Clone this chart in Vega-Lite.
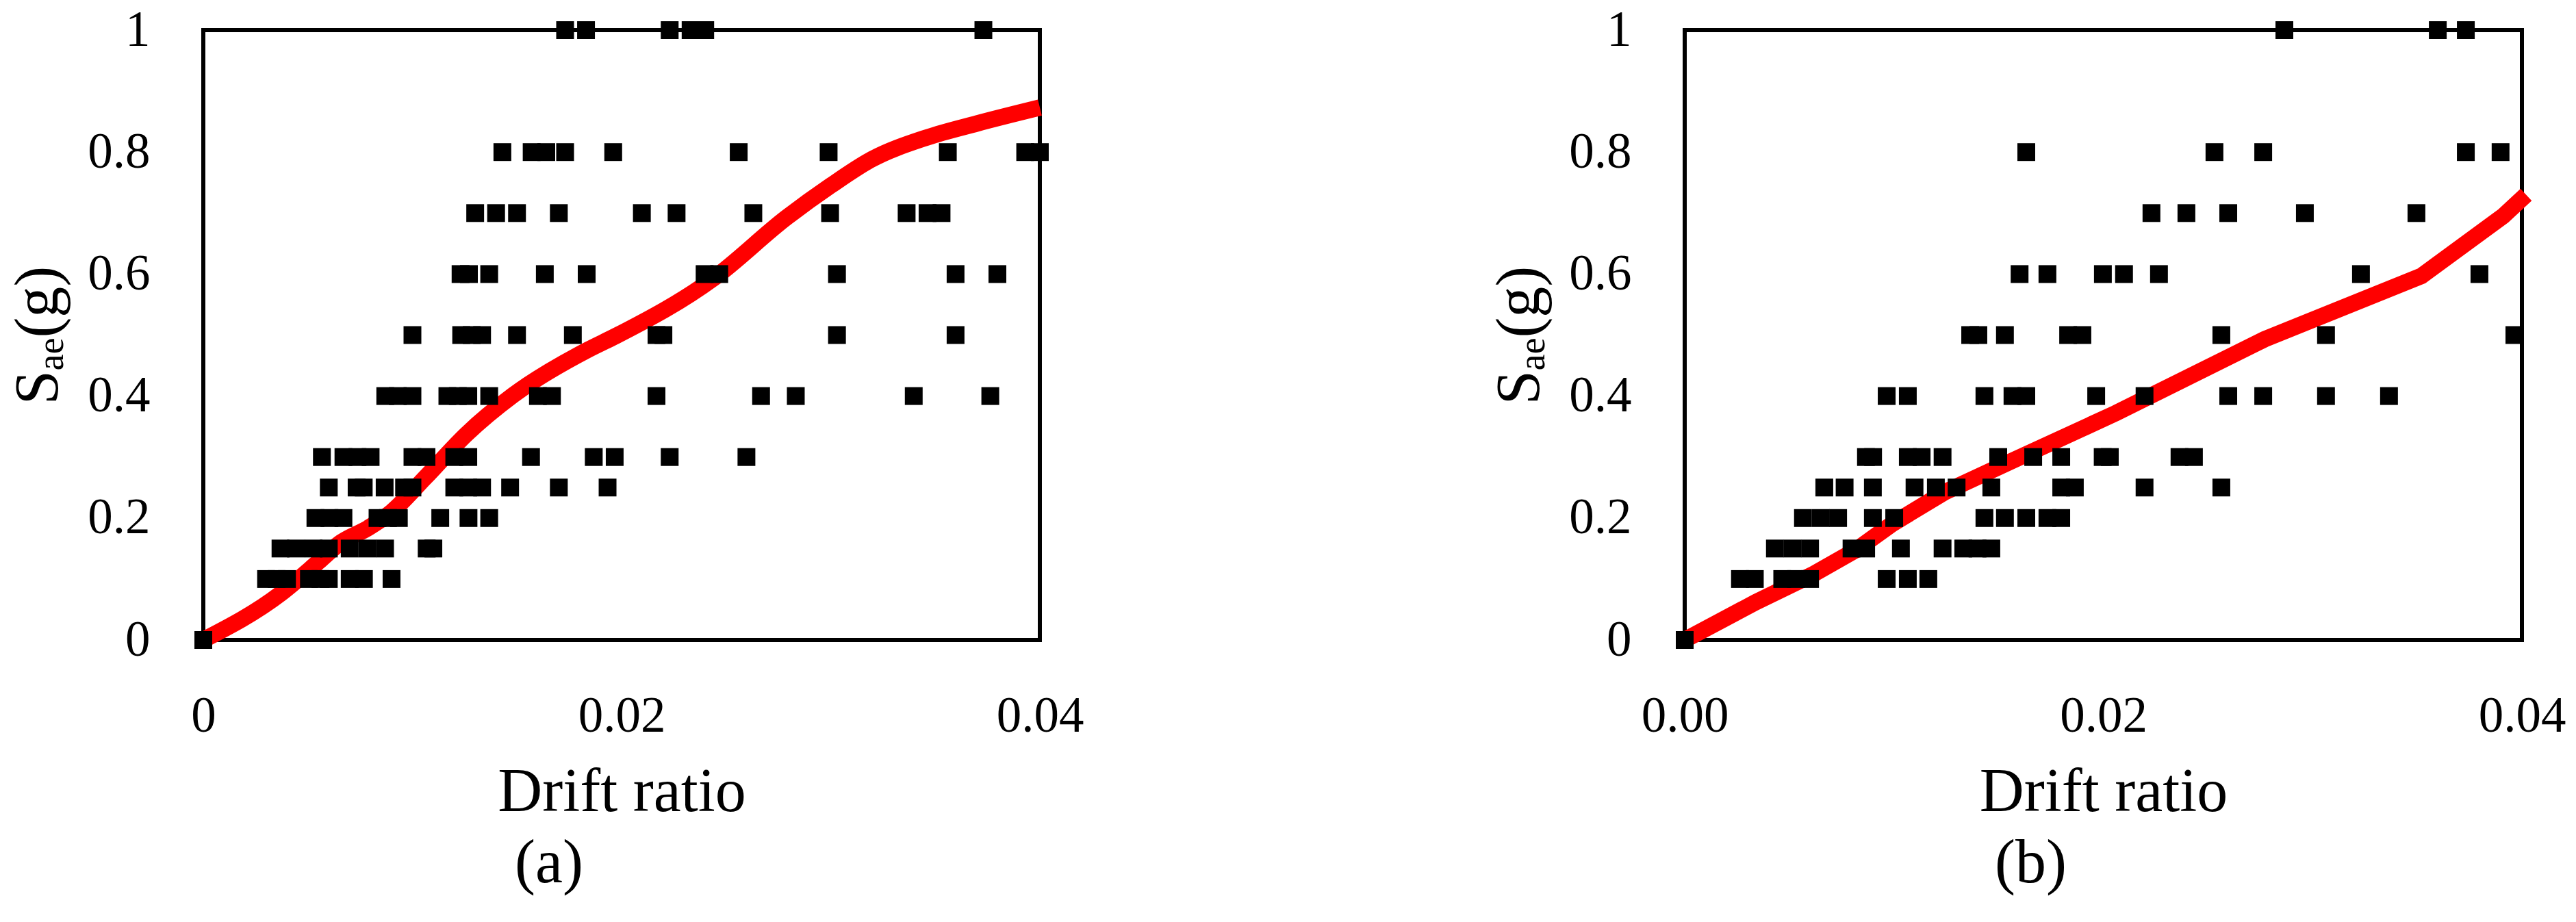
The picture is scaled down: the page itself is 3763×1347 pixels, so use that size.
{
  "$schema": "https://vega.github.io/schema/vega-lite/v6.json",
  "background": "white",
  "padding": {"left": 8, "top": 5, "right": 0, "bottom": 0},
  "spacing": 586,
  "config": {
    "font": "Liberation Serif",
    "view": {"stroke": "black", "strokeWidth": 6},
    "axis": {"grid": false, "ticks": false, "domain": false, "labelFlush": false, "labelFont": "Liberation Serif", "labelFontSize": 73, "labelColor": "black", "titleFont": "Liberation Serif", "titleFontSize": 90, "titleFontWeight": "normal", "titleColor": "black"},
    "title": {"font": "Liberation Serif", "fontSize": 90, "fontWeight": "normal", "color": "black"}
  },
  "datasets": {
    "pointsA": [
      {"x": 0, "y": 0},
      {"x": 0.0030, "y": 0.1}, {"x": 0.0035, "y": 0.1}, {"x": 0.0040, "y": 0.1}, {"x": 0.00505, "y": 0.1}, {"x": 0.0056, "y": 0.1}, {"x": 0.0060, "y": 0.1}, {"x": 0.0070, "y": 0.1}, {"x": 0.00768, "y": 0.1}, {"x": 0.0090, "y": 0.1},
      {"x": 0.00369, "y": 0.15}, {"x": 0.00443, "y": 0.15}, {"x": 0.00527, "y": 0.15}, {"x": 0.0060, "y": 0.15}, {"x": 0.0070, "y": 0.15}, {"x": 0.00785, "y": 0.15}, {"x": 0.00869, "y": 0.15}, {"x": 0.01068, "y": 0.15}, {"x": 0.0110, "y": 0.15},
      {"x": 0.00536, "y": 0.2}, {"x": 0.00603, "y": 0.2}, {"x": 0.0067, "y": 0.2}, {"x": 0.00833, "y": 0.2}, {"x": 0.00883, "y": 0.2}, {"x": 0.00935, "y": 0.2}, {"x": 0.01133, "y": 0.2}, {"x": 0.01268, "y": 0.2}, {"x": 0.01367, "y": 0.2},
      {"x": 0.0060, "y": 0.25}, {"x": 0.00733, "y": 0.25}, {"x": 0.00767, "y": 0.25}, {"x": 0.00867, "y": 0.25}, {"x": 0.0096, "y": 0.25}, {"x": 0.0100, "y": 0.25}, {"x": 0.0120, "y": 0.25}, {"x": 0.01267, "y": 0.25}, {"x": 0.01333, "y": 0.25}, {"x": 0.01467, "y": 0.25}, {"x": 0.0170, "y": 0.25}, {"x": 0.01933, "y": 0.25},
      {"x": 0.00567, "y": 0.3}, {"x": 0.0067, "y": 0.3}, {"x": 0.00737, "y": 0.3}, {"x": 0.0080, "y": 0.3}, {"x": 0.0100, "y": 0.3}, {"x": 0.01067, "y": 0.3}, {"x": 0.0120, "y": 0.3}, {"x": 0.01267, "y": 0.3}, {"x": 0.01567, "y": 0.3}, {"x": 0.01867, "y": 0.3}, {"x": 0.01967, "y": 0.3}, {"x": 0.0223, "y": 0.3}, {"x": 0.02597, "y": 0.3},
      {"x": 0.0087, "y": 0.4}, {"x": 0.0093, "y": 0.4}, {"x": 0.0100, "y": 0.4}, {"x": 0.01167, "y": 0.4}, {"x": 0.01217, "y": 0.4}, {"x": 0.01267, "y": 0.4}, {"x": 0.01367, "y": 0.4}, {"x": 0.0160, "y": 0.4}, {"x": 0.01667, "y": 0.4}, {"x": 0.02167, "y": 0.4}, {"x": 0.02667, "y": 0.4}, {"x": 0.02833, "y": 0.4}, {"x": 0.03397, "y": 0.4}, {"x": 0.03763, "y": 0.4},
      {"x": 0.0100, "y": 0.5}, {"x": 0.01233, "y": 0.5}, {"x": 0.01283, "y": 0.5}, {"x": 0.01333, "y": 0.5}, {"x": 0.0150, "y": 0.5}, {"x": 0.01767, "y": 0.5}, {"x": 0.02167, "y": 0.5}, {"x": 0.0220, "y": 0.5}, {"x": 0.0303, "y": 0.5}, {"x": 0.03597, "y": 0.5},
      {"x": 0.0123, "y": 0.6}, {"x": 0.0127, "y": 0.6}, {"x": 0.01367, "y": 0.6}, {"x": 0.01633, "y": 0.6}, {"x": 0.01833, "y": 0.6}, {"x": 0.02397, "y": 0.6}, {"x": 0.02467, "y": 0.6}, {"x": 0.0303, "y": 0.6}, {"x": 0.03597, "y": 0.6}, {"x": 0.03797, "y": 0.6},
      {"x": 0.0130, "y": 0.7}, {"x": 0.0140, "y": 0.7}, {"x": 0.0150, "y": 0.7}, {"x": 0.0170, "y": 0.7}, {"x": 0.02097, "y": 0.7}, {"x": 0.02263, "y": 0.7}, {"x": 0.0263, "y": 0.7}, {"x": 0.02997, "y": 0.7}, {"x": 0.03363, "y": 0.7}, {"x": 0.03463, "y": 0.7}, {"x": 0.0353, "y": 0.7},
      {"x": 0.0143, "y": 0.8}, {"x": 0.0157, "y": 0.8}, {"x": 0.0164, "y": 0.8}, {"x": 0.0173, "y": 0.8}, {"x": 0.0196, "y": 0.8}, {"x": 0.0256, "y": 0.8}, {"x": 0.0299, "y": 0.8}, {"x": 0.0356, "y": 0.8}, {"x": 0.0393, "y": 0.8}, {"x": 0.0400, "y": 0.8},
      {"x": 0.0173, "y": 1}, {"x": 0.0183, "y": 1}, {"x": 0.0223, "y": 1}, {"x": 0.0233, "y": 1}, {"x": 0.0240, "y": 1}, {"x": 0.0373, "y": 1}
    ],
    "curveA": [
      {"x": 0, "y": 0}, {"x": 0.0037, "y": 0.076}, {"x": 0.0055, "y": 0.128}, {"x": 0.0065, "y": 0.158}, {"x": 0.0079, "y": 0.184}, {"x": 0.009, "y": 0.21}, {"x": 0.0106, "y": 0.266}, {"x": 0.0126, "y": 0.338}, {"x": 0.0148, "y": 0.401}, {"x": 0.0184, "y": 0.476}, {"x": 0.0197, "y": 0.498}, {"x": 0.0244, "y": 0.593}, {"x": 0.0279, "y": 0.693}, {"x": 0.030, "y": 0.745}, {"x": 0.0319, "y": 0.787}, {"x": 0.0346, "y": 0.824}, {"x": 0.037, "y": 0.847}, {"x": 0.040, "y": 0.873}
    ],
    "pointsB": [
      {"x": 0, "y": 0},
      {"x": 0.00264, "y": 0.1}, {"x": 0.00335, "y": 0.1}, {"x": 0.00466, "y": 0.1}, {"x": 0.00532, "y": 0.1}, {"x": 0.00599, "y": 0.1}, {"x": 0.00965, "y": 0.1}, {"x": 0.01066, "y": 0.1}, {"x": 0.01164, "y": 0.1},
      {"x": 0.00431, "y": 0.15}, {"x": 0.00515, "y": 0.15}, {"x": 0.00599, "y": 0.15}, {"x": 0.00797, "y": 0.15}, {"x": 0.00867, "y": 0.15}, {"x": 0.01033, "y": 0.15}, {"x": 0.01232, "y": 0.15}, {"x": 0.01331, "y": 0.15}, {"x": 0.01399, "y": 0.15}, {"x": 0.01465, "y": 0.15},
      {"x": 0.00565, "y": 0.2}, {"x": 0.0065, "y": 0.2}, {"x": 0.00733, "y": 0.2}, {"x": 0.00899, "y": 0.2}, {"x": 0.01001, "y": 0.2}, {"x": 0.01432, "y": 0.2}, {"x": 0.0153, "y": 0.2}, {"x": 0.01632, "y": 0.2}, {"x": 0.01733, "y": 0.2}, {"x": 0.01799, "y": 0.2},
      {"x": 0.00667, "y": 0.25}, {"x": 0.00764, "y": 0.25}, {"x": 0.00899, "y": 0.25}, {"x": 0.01098, "y": 0.25}, {"x": 0.0120, "y": 0.25}, {"x": 0.01299, "y": 0.25}, {"x": 0.01465, "y": 0.25}, {"x": 0.01799, "y": 0.25}, {"x": 0.01864, "y": 0.25}, {"x": 0.02197, "y": 0.25}, {"x": 0.02564, "y": 0.25},
      {"x": 0.00866, "y": 0.3}, {"x": 0.0090, "y": 0.3}, {"x": 0.01066, "y": 0.3}, {"x": 0.01132, "y": 0.3}, {"x": 0.01232, "y": 0.3}, {"x": 0.01498, "y": 0.3}, {"x": 0.01665, "y": 0.3}, {"x": 0.01799, "y": 0.3}, {"x": 0.01997, "y": 0.3}, {"x": 0.02031, "y": 0.3}, {"x": 0.02364, "y": 0.3}, {"x": 0.02433, "y": 0.3},
      {"x": 0.00965, "y": 0.4}, {"x": 0.01066, "y": 0.4}, {"x": 0.01432, "y": 0.4}, {"x": 0.01566, "y": 0.4}, {"x": 0.01632, "y": 0.4}, {"x": 0.01966, "y": 0.4}, {"x": 0.02197, "y": 0.4}, {"x": 0.02597, "y": 0.4}, {"x": 0.02764, "y": 0.4}, {"x": 0.03064, "y": 0.4}, {"x": 0.03365, "y": 0.4},
      {"x": 0.01364, "y": 0.5}, {"x": 0.01403, "y": 0.5}, {"x": 0.0153, "y": 0.5}, {"x": 0.01832, "y": 0.5}, {"x": 0.0190, "y": 0.5}, {"x": 0.02564, "y": 0.5}, {"x": 0.03064, "y": 0.5}, {"x": 0.03964, "y": 0.5},
      {"x": 0.0160, "y": 0.6}, {"x": 0.01733, "y": 0.6}, {"x": 0.01998, "y": 0.6}, {"x": 0.02099, "y": 0.6}, {"x": 0.02266, "y": 0.6}, {"x": 0.03231, "y": 0.6}, {"x": 0.03797, "y": 0.6},
      {"x": 0.0223, "y": 0.7}, {"x": 0.02397, "y": 0.7}, {"x": 0.02597, "y": 0.7}, {"x": 0.02963, "y": 0.7}, {"x": 0.03496, "y": 0.7},
      {"x": 0.01632, "y": 0.8}, {"x": 0.02531, "y": 0.8}, {"x": 0.02764, "y": 0.8}, {"x": 0.03732, "y": 0.8}, {"x": 0.03898, "y": 0.8},
      {"x": 0.02865, "y": 1}, {"x": 0.03598, "y": 1}, {"x": 0.03732, "y": 1}
    ],
    "curveB": [
      {"x": 0, "y": 0}, {"x": 0.0034, "y": 0.062}, {"x": 0.0061, "y": 0.107}, {"x": 0.0082, "y": 0.148}, {"x": 0.0099, "y": 0.19}, {"x": 0.0124, "y": 0.242}, {"x": 0.0156, "y": 0.293}, {"x": 0.0206, "y": 0.372}, {"x": 0.0277, "y": 0.493}, {"x": 0.0352, "y": 0.597}, {"x": 0.0391, "y": 0.695}, {"x": 0.0402, "y": 0.73}
    ]
  },
  "hconcat": [
    {
      "width": 1222,
      "height": 891,
      "title": {"text": "(a)", "orient": "bottom", "anchor": "middle", "frame": "group", "dx": -106, "offset": 16},
      "layer": [
        {
          "data": {"name": "curveA"},
          "mark": {"type": "line", "color": "#ff0000", "strokeWidth": 24, "interpolate": "monotone", "strokeCap": "butt", "clip": false},
          "encoding": {
            "x": {"field": "x", "type": "quantitative", "scale": {"domain": [0, 0.04]}, "axis": {"values": [0, 0.02, 0.04], "format": ".2~f", "title": "Drift ratio", "labelPadding": 75, "titlePadding": 30}},
            "y": {"field": "y", "type": "quantitative", "scale": {"domain": [0, 1]}, "axis": {"values": [0, 0.2, 0.4, 0.6, 0.8, 1], "format": ".1~f", "title": "Sₐₑ(g)", "labelPadding": 78, "titlePadding": 25}}
          }
        },
        {
          "data": {"name": "pointsA"},
          "mark": {"type": "square", "color": "black", "size": 676, "opacity": 1, "filled": true},
          "encoding": {
            "x": {"field": "x", "type": "quantitative"},
            "y": {"field": "y", "type": "quantitative"}
          }
        }
      ]
    },
    {
      "width": 1223,
      "height": 891,
      "title": {"text": "(b)", "orient": "bottom", "anchor": "middle", "frame": "group", "dx": -106, "offset": 16},
      "layer": [
        {
          "data": {"name": "curveB"},
          "mark": {"type": "line", "color": "#ff0000", "strokeWidth": 24, "interpolate": "linear", "strokeCap": "butt", "clip": false},
          "encoding": {
            "x": {"field": "x", "type": "quantitative", "scale": {"domain": [0, 0.04]}, "axis": {"values": [0, 0.02, 0.04], "format": ".2f", "title": "Drift ratio", "labelPadding": 75, "titlePadding": 30}},
            "y": {"field": "y", "type": "quantitative", "scale": {"domain": [0, 1]}, "axis": {"values": [0, 0.2, 0.4, 0.6, 0.8, 1], "format": ".1~f", "title": "Sₐₑ(g)", "labelPadding": 78, "titlePadding": 25}}
          }
        },
        {
          "data": {"name": "pointsB"},
          "mark": {"type": "square", "color": "black", "size": 676, "opacity": 1, "filled": true},
          "encoding": {
            "x": {"field": "x", "type": "quantitative"},
            "y": {"field": "y", "type": "quantitative"}
          }
        }
      ]
    }
  ]
}
